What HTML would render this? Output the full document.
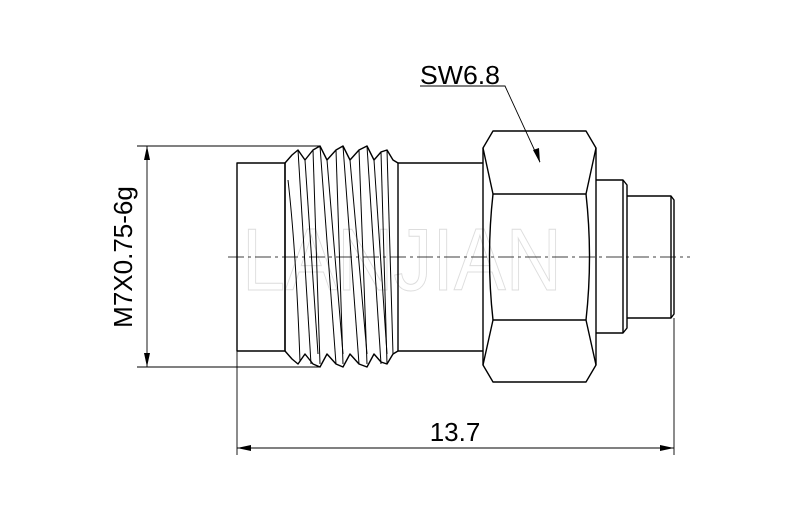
<!DOCTYPE html>
<html><head><style>body{margin:0;background:#fff}svg{display:block}</style></head>
<body>
<svg width="800" height="508" viewBox="0 0 800 508" xmlns="http://www.w3.org/2000/svg">
<!-- watermark -->
<text x="242" y="290" textLength="320" lengthAdjust="spacingAndGlyphs" font-family="Liberation Sans, sans-serif" font-size="88" fill="none" stroke="#ddd" stroke-width="1">LANJIAN</text>
<g fill="none" stroke="#000" stroke-width="1.4" stroke-linejoin="round">
<rect x="237" y="163" width="48" height="188"/>
<line x1="398" y1="163" x2="483" y2="163"/>
<line x1="398" y1="351" x2="483" y2="351"/>
<polyline points="285,163 292,155 298,150 305,160 313,150 320,146 327,160 336,150 343,146 350,160 359,150 367,146 374,160 381,152 387,150 393,160 398,163"/>
<polyline points="285,351 292,359 298,364 305,354 313,364 320,367 327,354 336,364 343,367 350,354 359,364 367,367 374,354 381,362 387,364 393,354 398,351"/>
<line x1="285" y1="163" x2="285" y2="351"/>
<line x1="398" y1="163" x2="398" y2="351"/>
<g stroke-width="1">
<path d="M288,180 Q296,250 300,362"/>
<line x1="298" y1="150" x2="311" y2="364"/>
<line x1="305" y1="160" x2="318" y2="354"/>
<line x1="313" y1="150" x2="320" y2="364"/>
<line x1="320" y1="146" x2="336" y2="364"/>
<line x1="327" y1="160" x2="343" y2="354"/>
<line x1="336" y1="150" x2="343" y2="364"/>
<line x1="343" y1="146" x2="359" y2="364"/>
<line x1="350" y1="160" x2="367" y2="354"/>
<line x1="359" y1="150" x2="367" y2="364"/>
<line x1="367" y1="146" x2="381" y2="364"/>
<line x1="374" y1="160" x2="387" y2="354"/>
<line x1="381" y1="152" x2="387" y2="364"/>
<line x1="387" y1="150" x2="393" y2="354"/>
</g>
<path d="M493,131 L586,131 L596,148 L596,365 L586,382 L493,382 L483,365 L483,148 Z"/>
<path d="M483,148 L493,194 L586,194 L596,148"/>
<path d="M483,365 L493,320 L586,320 L596,365"/>
<path d="M493,194 Q486,257 493,320"/>
<path d="M586,194 Q593,257 586,320"/>
<path d="M596,180 L623,180 L627,185 L627,328 L623,333 L596,333"/>
<line x1="623" y1="180" x2="623" y2="333"/>
<path d="M627,196 L671,196 L674,200 L674,314 L671,318 L627,318"/>
<line x1="671" y1="196" x2="671" y2="318"/>
</g>
<line x1="228" y1="257" x2="690" y2="257" stroke="#000" stroke-width="0.8" stroke-dasharray="16,4,3,4"/>
<g stroke="#000" stroke-width="0.9" fill="none">
<line x1="137" y1="146" x2="320" y2="146"/>
<line x1="137" y1="367" x2="320" y2="367"/>
<line x1="147" y1="146" x2="147" y2="367"/>
<line x1="237" y1="351" x2="237" y2="455"/>
<line x1="674" y1="318" x2="674" y2="455"/>
<line x1="237" y1="448" x2="674" y2="448"/>
<polyline points="420,86 505,86 540,162"/>
</g>
<g fill="#000">
<polygon points="147,146 144,160 150,160"/>
<polygon points="147,367 144,353 150,353"/>
<polygon points="237,448 251,445 251,451"/>
<polygon points="674,448 660,445 660,451"/>
<polygon points="540,163 533,150 539,148"/>
</g>
<g font-family="Liberation Sans, sans-serif" font-size="26" fill="#000">
<text x="420" y="84" textLength="80" lengthAdjust="spacingAndGlyphs">SW6.8</text>
<text x="455" y="441" text-anchor="middle">13.7</text>
<text transform="translate(132,257) rotate(-90)" text-anchor="middle">M7X0.75-6g</text>
</g>
</svg>
</body></html>
